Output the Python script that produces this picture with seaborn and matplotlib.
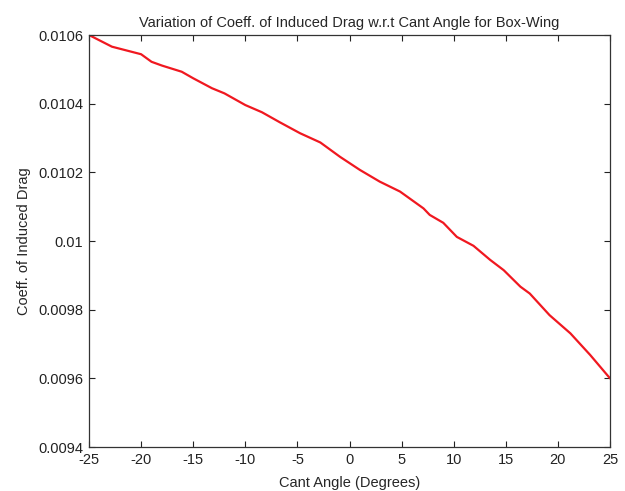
import matplotlib
matplotlib.use("Agg")
import matplotlib.pyplot as plt
import seaborn as sns
import pandas as pd

cant_angle = [-25.0, -22.8, -20.0, -19.0, -18.0, -16.1, -15.0, -13.2, -12.0, -10.0,
              -8.4, -6.7, -4.75, -2.8, -0.9, 1.0, 2.9, 4.85, 7.1, 7.7, 9.0,
              10.3, 11.9, 13.5, 14.8, 16.4, 17.3, 19.2, 21.2, 23.1, 25.0]
cdi = [0.010600, 0.010566, 0.010544, 0.010522, 0.010511, 0.010493, 0.010474,
       0.010445, 0.010430, 0.010396, 0.010375, 0.010346, 0.010314, 0.010287,
       0.010245, 0.010207, 0.010173, 0.010144, 0.010095, 0.010076, 0.010053,
       0.010012, 0.009986, 0.009945, 0.009915, 0.009867, 0.009847, 0.009784,
       0.009731, 0.009668, 0.009600]
x_ticks = [-25, -20, -15, -10, -5, 0, 5, 10, 15, 20, 25]
y_ticks = [0.0094, 0.0096, 0.0098, 0.0100, 0.0102, 0.0104, 0.0106]
y_labels = ["0.0094", "0.0096", "0.0098", "0.01", "0.0102", "0.0104", "0.0106"]

sns.set_style("ticks", {"xtick.direction": "in", "ytick.direction": "in"})
plt.rcParams["font.family"] = ["Liberation Sans", "DejaVu Sans"]

df = pd.DataFrame({"angle": cant_angle, "cdi": cdi})
fig = plt.figure(figsize=(6.25, 4.91), dpi=100)
ax = fig.add_axes([0.1424, 0.0896, 0.8336, 0.8391])
sns.lineplot(data=df, x="angle", y="cdi", color="#f01820", linewidth=1.6, ax=ax)
ax.set_xlim(-25, 25)
ax.set_ylim(0.0094, 0.0106)
ax.set_xticks(x_ticks)
ax.set_xticklabels([str(t) for t in x_ticks], fontsize=10.5)
ax.set_yticks(y_ticks)
ax.set_yticklabels(y_labels, fontsize=10.5)
ax.tick_params(top=True, right=True, length=4.5, width=0.8, colors="#222222")
ax.tick_params(axis="y", pad=4)
ax.tick_params(axis="x", pad=4.5)
for s in ax.spines.values():
    s.set_linewidth(0.9)
    s.set_color("#333333")
ax.set_xlabel("Cant Angle (Degrees)", fontsize=10.5, labelpad=6)
ax.set_ylabel("Coeff. of Induced Drag", fontsize=10.5, labelpad=5)
ax.set_title("Variation of Coeff. of Induced Drag w.r.t Cant Angle for Box-Wing",
             fontsize=10.5, pad=6)
fig.savefig("out.png", dpi=100)
